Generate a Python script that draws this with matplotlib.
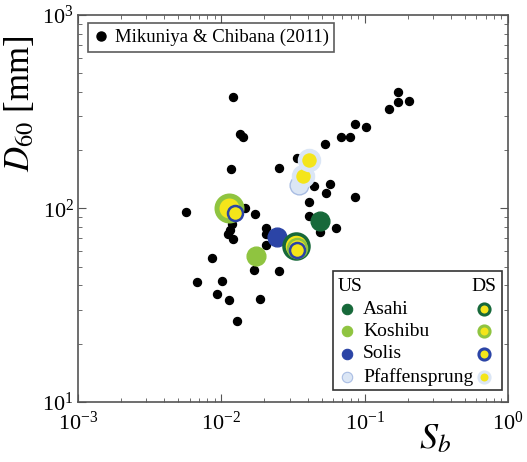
import numpy as np
import matplotlib.pyplot as plt
from matplotlib.patches import Rectangle
from matplotlib.lines import Line2D

plt.rcParams['font.family'] = ['Liberation Serif', 'DejaVu Serif']
plt.rcParams['mathtext.fontset'] = 'stix'

# --- DATA ---
# Mikuniya & Chibana (2011): bed slope S_b, D60 [mm]
mc_sb = [0.0121, 0.0135, 0.0141, 0.01165, 0.00568, 0.0146, 0.0172, 0.0119, 0.0115,
         0.0112, 0.0120, 0.0205, 0.0205, 0.0204, 0.00857, 0.0170, 0.0254, 0.00673,
         0.01016, 0.00929, 0.01128, 0.0186, 0.0128, 0.0254, 0.0339, 0.0443, 0.0574,
         0.0535, 0.0409, 0.0853, 0.0409, 0.0488, 0.0631, 0.0532, 0.0684, 0.0790,
         0.0853, 0.1023, 0.147, 0.172, 0.172, 0.204]
mc_d60 = [378, 242, 233, 160, 96, 101, 93, 83, 77.4,
          73.6, 69.4, 79.2, 73.8, 64.3, 55.7, 48.3, 47.5, 41.7,
          41.9, 36.0, 33.8, 34.0, 26.3, 162.5, 183, 130.6, 134,
          120, 108.5, 115, 90.8, 75.9, 78.7, 215, 233, 233,
          272, 262, 326, 400, 354, 357]

rivers = ["Asahi", "Koshibu", "Solis", "Pfaffensprung"]
# upstream (US) points
us_sb = [0.0489, 0.01745, 0.0246, 0.0350]
us_d60 = [86.3, 56.9, 71.0, 132]
# downstream (DS) points
ds_river = ["Asahi", "Koshibu", "Koshibu", "Solis", "Solis", "Pfaffensprung", "Pfaffensprung"]
ds_sb = [0.0332, 0.0335, 0.01138, 0.0339, 0.01247, 0.0370, 0.0411]
ds_d60 = [64.0, 62.6, 100, 61.1, 94.4, 147, 177]

# --- STYLES ---
colors = {"Asahi": "#17693a", "Koshibu": "#8fc440", "Solis": "#2b44a6",
          "Pfaffensprung": "#dbe6f5"}
us_edge = {"Asahi": "#17693a", "Koshibu": "#8fc440", "Solis": "#2b44a6",
           "Pfaffensprung": "#a9bde3"}
yellow = "#f4e51a"
ds_size = [25, 19, 25, 15, 15, 19, 19]
ds_lw = [3.5, 2.5, 5.0, 2.5, 2.5, 4.5, 4.5]

fig = plt.figure(figsize=(5.27, 4.62), dpi=100)
ax = fig.add_axes([0.148, 0.130, 0.816, 0.838])

ax.scatter(mc_sb, mc_d60, s=33, c="black", zorder=2)

for r, x, y in zip(rivers, us_sb, us_d60):
    ax.plot(x, y, "o", ms=13.5, mfc=colors[r], mec=us_edge[r], mew=1.0, zorder=3)

for r, x, y, s, lw in zip(ds_river, ds_sb, ds_d60, ds_size, ds_lw):
    ax.plot(x, y, "o", ms=s * 0.72, mfc=yellow, mec=colors[r], mew=lw * 0.72, zorder=4)

ax.set_xscale("log")
ax.set_yscale("log")
ax.set_xlim(1e-3, 1)
ax.set_ylim(10, 1000)

for sp in ax.spines.values():
    sp.set_color("#555555")
    sp.set_linewidth(1.2)
ax.tick_params(which="both", direction="in", top=True, right=True, colors="#555555",
               labelcolor="black", labelsize=16)
ax.tick_params(which="major", length=6)
ax.tick_params(which="minor", length=3)
ax.tick_params(axis="x", pad=7)
ax.tick_params(axis="y", pad=3)

ax.set_xlabel(r"$S_b$", fontsize=26)
ax.set_ylabel(r"$D_{60}$ [mm]", fontsize=25)
ax.xaxis.set_label_coords(0.83, -0.055)
ax.yaxis.set_label_coords(-0.095, 0.77)

# legend for the literature data
h_mc = Line2D([], [], ls="none", marker="o", ms=6.5, color="black")
leg = ax.legend([h_mc], ["Mikuniya & Chibana (2011)"], loc="upper left",
                bbox_to_anchor=(0.024, 0.978), fontsize=13.5, frameon=True,
                fancybox=False, edgecolor="#333333", handletextpad=0.3,
                handlelength=0.8, borderpad=0.3, borderaxespad=0)
leg.get_frame().set_linewidth(1.2)

# US / DS legend box
ax.add_patch(Rectangle((0.592, 0.031), 0.393, 0.306, transform=ax.transAxes,
                       fill=True, fc="white", ec="#333333", lw=1.2, zorder=5))
ax.text(0.604, 0.298, "US", transform=ax.transAxes, fontsize=14, va="center",
        ha="left", zorder=6)
ax.text(0.972, 0.298, "DS", transform=ax.transAxes, fontsize=14, va="center",
        ha="right", zorder=6)
rows = [0.240, 0.182, 0.124, 0.065]
for r, yy in zip(rivers, rows):
    ax.plot(0.626, yy, "o", ms=7.5, mfc=colors[r], mec=us_edge[r], mew=0.8,
            transform=ax.transAxes, zorder=6, clip_on=False)
    ax.text(0.663, yy, r, transform=ax.transAxes, fontsize=14, va="center",
            ha="left", zorder=6)
    ax.plot(0.945, yy, "o", ms=8, mfc=yellow, mec=colors[r], mew=2.2,
            transform=ax.transAxes, zorder=6, clip_on=False)

fig.savefig("out.png", dpi=100)
